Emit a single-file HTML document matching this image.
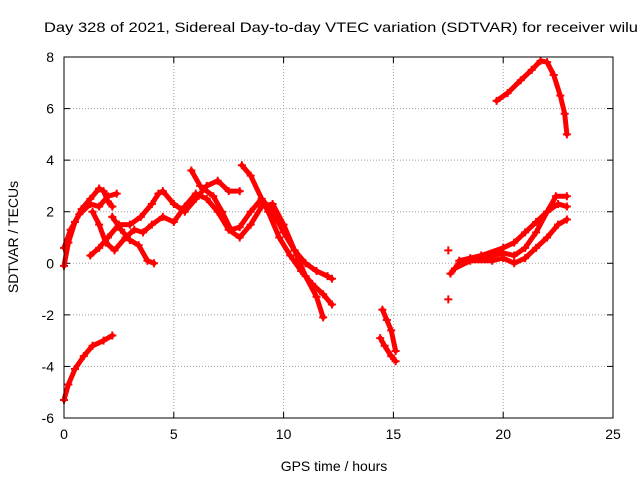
<!DOCTYPE html>
<html><head><meta charset="utf-8"><style>
body{margin:0;background:#fff;}
svg text{font-family:"Liberation Sans",sans-serif;fill:#000;}
</style></head><body>
<svg id="chart" width="640" height="480" xmlns="http://www.w3.org/2000/svg">
<rect width="640" height="480" fill="#fff"/>
<text x="44" y="32" font-size="14" textLength="594" lengthAdjust="spacingAndGlyphs">Day 328 of 2021, Sidereal Day-to-day VTEC variation (SDTVAR) for receiver wilu</text>
<text x="334" y="471" font-size="14" text-anchor="middle">GPS time / hours</text>
<text transform="translate(18,237) rotate(-90)" font-size="14" text-anchor="middle">SDTVAR / TECUs</text>
<g id="grid"></g><g id="ticks"></g><g id="marks"></g>
<rect x="64" y="57" width="549" height="361" fill="none" stroke="#000" stroke-width="1"/>
</svg>
<script>
const xTicks=[0,5,10,15,20,25];
const yTicks=[-6,-4,-2,0,2,4,6,8];
const trackA1=[[0,-0.1],[0.2,0.8],[0.5,1.6],[0.8,2.1],[1.2,2.5],[1.6,2.9],[1.8,2.8],[2.0,2.4],[2.2,2.2]];
const trackA2=[[0,0.6],[0.3,1.3],[0.7,1.9],[1.2,2.3],[1.6,2.2],[2.0,2.6],[2.4,2.7]];
const trackA3=[[1.2,0.3],[1.6,0.6],[2.0,1.0],[2.5,1.5],[3.0,1.5],[3.5,1.8],[4.0,2.3],[4.3,2.7],[4.5,2.8],[5,2.3],[5.5,2.0],[6,2.5],[6.5,3.0],[7,3.2],[7.5,2.8],[8,2.8]];
const trackA4=[[1.3,2.0],[1.6,1.5],[1.9,0.8],[2.3,0.5],[2.8,1.0],[3.2,1.3],[3.6,1.2],[4,1.5],[4.5,1.8],[5,1.6],[5.5,2.2],[6,2.7],[6.5,2.5],[7,2.0],[7.5,1.3],[8,1.0],[8.5,1.5],[9,2.2],[9.5,2.3],[10,1.5],[10.5,0.5],[11,-0.5],[11.5,-1.3],[11.8,-2.1]];
const trackA5=[[2.2,1.8],[2.6,1.3],[3,0.9],[3.4,0.7],[3.8,0.1],[4.1,0.0]];
const trackA6=[[5.8,3.6],[6.2,3.0],[6.8,2.6],[7.2,2.0],[7.6,1.3],[8.0,1.4],[8.5,2.0],[9,2.5],[9.3,2.0],[9.8,1.0],[10.3,0.3],[10.8,-0.3],[11.3,-0.8],[11.8,-1.2],[12.2,-1.6]];
const trackA7=[[8.1,3.8],[8.5,3.4],[9,2.5],[9.5,2.0],[10,1.2],[10.5,0.5],[11,0],[11.5,-0.3],[12,-0.5],[12.2,-0.6]];
const trackA8=[[0,-5.3],[0.2,-4.7],[0.5,-4.1],[0.9,-3.6],[1.3,-3.2],[1.8,-3.0],[2.2,-2.8]];
const trackB1=[[14.5,-1.8],[14.7,-2.2],[14.9,-2.6],[15.1,-3.4]];
const trackB2=[[14.4,-2.9],[14.6,-3.2],[14.9,-3.6],[15.1,-3.8]];
const trackC0=[[17.5,0.5]];
const trackC1=[[17.5,-1.4]];
const trackC2=[[17.6,-0.4],[18,0],[18.5,0.2],[19,0.2],[19.5,0.3],[20,0.4],[20.5,0.3],[21,0.6],[21.5,1.2],[22,2.0],[22.4,2.6],[22.9,2.6]];
const trackC3=[[17.8,-0.2],[18.5,0.1],[19.5,0.1],[20,0.2],[20.5,0],[21,0.2],[21.5,0.6],[22,1.0],[22.5,1.5],[22.9,1.7]];
const trackC4=[[18,0.1],[19,0.3],[20,0.6],[20.5,0.8],[21,1.2],[21.5,1.6],[22,2.0],[22.5,2.3],[22.9,2.2]];
const trackD=[[19.7,6.3],[20.2,6.6],[20.8,7.1],[21.3,7.5],[21.7,7.85],[22,7.8],[22.3,7.3],[22.6,6.5],[22.8,5.8],[22.9,5.0]];
const tracks=[trackA1,trackA2,trackA3,trackA4,trackA5,trackA6,trackA7,trackA8,trackB1,trackB2,trackC0,trackC1,trackC2,trackC3,trackC4,trackD];

const X0=64,X1=613,Y0=418,Y1=57;
const xs=v=>X0+(v-0)/(25-0)*(X1-X0);
const ys=v=>Y0-(v+6)/(8+6)*(Y0-Y1);
const NS="http://www.w3.org/2000/svg";
function mk(t,a,p){const e=document.createElementNS(NS,t);for(const k in a)e.setAttribute(k,a[k]);p.appendChild(e);return e;}
const grid=document.getElementById('grid'),ticks=document.getElementById('ticks'),marks=document.getElementById('marks');
xTicks.forEach(v=>{
  const x=xs(v);
  if(v>0&&v<25){const g=mk('line',{x1:x,x2:x,y1:Y1,y2:Y0,stroke:'#a0a0a0','stroke-dasharray':'1,2'},grid);
  
  }
  mk('line',{x1:x,x2:x,y1:Y0,y2:Y0-6,stroke:'#000'},ticks);
  mk('line',{x1:x,x2:x,y1:Y1,y2:Y1+6,stroke:'#000'},ticks);
  const t=mk('text',{x:x,y:Y0+21,'font-size':14,'text-anchor':'middle'},ticks);t.textContent=v;
  
  
});
yTicks.forEach(v=>{
  const y=ys(v);
  if(v>-6&&v<8){const g=mk('line',{x1:X0,x2:X1,y1:y,y2:y,stroke:'#a0a0a0','stroke-dasharray':'1,2'},grid);
  
  }
  mk('line',{x1:X0,x2:X0+6,y1:y,y2:y,stroke:'#000'},ticks);
  mk('line',{x1:X1,x2:X1-6,y1:y,y2:y,stroke:'#000'},ticks);
  const t=mk('text',{x:X0-10,y:y+5,'font-size':14,'text-anchor':'end'},ticks);t.textContent=v;
  
  
});
tracks.forEach(tr=>{
  const pl=mk('polyline',{points:tr.map(p=>xs(p[0])+','+ys(p[1])).join(' '),fill:'none',stroke:'#f00','stroke-width':5,'stroke-linejoin':'round','stroke-linecap':'round'},marks);
  
  
  tr.forEach(p=>{
    const x=xs(p[0]),y=ys(p[1]);
    const m=mk('path',{d:`M${x-4},${y}H${x+4}M${x},${y-4}V${y+4}`,stroke:'#f00','stroke-width':2},marks);
    
    
  });
});
</script>
</body></html>
